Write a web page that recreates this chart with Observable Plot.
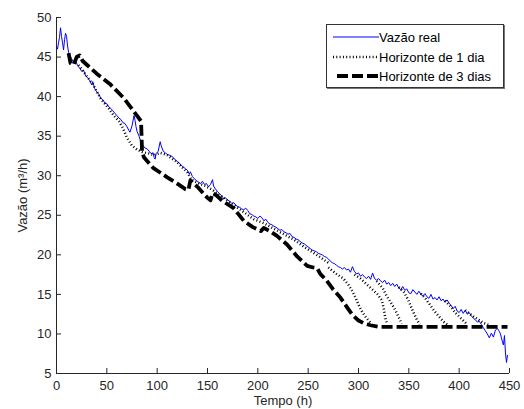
<!DOCTYPE html>
<html>
<head>
<meta charset="utf-8">
<script src="https://cdn.jsdelivr.net/npm/d3@7"></script>
<script src="https://cdn.jsdelivr.net/npm/@observablehq/plot@0.6"></script>
<style>
  html, body { margin: 0; padding: 0; background: #fff; }
  #wrap { position: relative; width: 524px; height: 409px; font-family: "Liberation Sans", Arial, Helvetica, sans-serif; }
  #legend { position: absolute; left: 326px; top: 24px; width: 176px; height: 62px; border: 1px solid #333; box-shadow: 1px 1px 0 #777; background: #fff; font-size: 13px; color: #000; }
  .row { position: absolute; left: 6px; height: 16px; display: flex; align-items: center; }
  .row svg { width: 46px; height: 10px; margin-right: 0px; }
</style>
</head>
<body>
<div id="wrap"></div>
<script>
// ---- data ----
const xTicks = [0, 50, 100, 150, 200, 250, 300, 350, 400, 450];
const yTicks = [5, 10, 15, 20, 25, 30, 35, 40, 45, 50];
const seriesNames = ["Vazão real", "Horizonte de 1 dia", "Horizonte de 3 dias"];

// Vazão real: [hour, m3/h]
const realFlow = [[0,46.3],[1,46.0],[2,46.8],[3,47.5],[4,48.7],[5,47.6],[6,46.8],[7,45.9],[8,47.2],[9,48.0],[10,47.6],[11,46.4],[12,45.6],[13,45.2],[15,44.8],[17,44.3],[19,44.5],[21,43.9],[23,43.6],[25,43.2],[27,43.3],[29,42.6],[31,42.4],[33,42.0],[35,41.5],[36,41.9],[38,41.0],[40,40.6],[42,40.3],[44,39.8],[46,39.6],[48,39.2],[50,39.1],[52,38.7],[54,38.5],[56,38.2],[58,37.9],[60,37.6],[62,37.3],[64,37.1],[66,36.7],[68,36.6],[70,36.2],[72,35.7],[73,35.5],[75,36.3],[77,37.6],[78,37.0],[79,36.2],[80,35.6],[82,35.0],[84,34.2],[86,33.8],[88,33.5],[90,33.4],[92,33.1],[94,32.8],[96,32.9],[97,32.3],[98,32.1],[99,32.8],[101,33.1],[103,34.3],[104,33.8],[106,33.1],[108,32.9],[110,32.7],[112,32.6],[114,32.5],[116,32.3],[118,32.0],[120,31.8],[122,31.6],[124,31.3],[126,31.1],[128,30.9],[130,30.7],[132,30.2],[133,30.5],[135,29.9],[137,29.6],[139,29.4],[141,29.2],[143,29.0],[145,29.3],[147,28.9],[149,29.0],[151,28.6],[153,28.9],[155,29.5],[156,28.7],[158,28.3],[160,28.0],[162,27.7],[164,27.5],[166,27.1],[168,27.2],[170,26.9],[172,26.8],[174,26.5],[176,26.6],[178,26.3],[180,26.1],[182,26.0],[184,25.8],[186,25.7],[188,25.9],[190,25.6],[192,25.2],[194,25.1],[196,24.9],[198,24.8],[200,24.6],[202,24.9],[204,24.7],[206,24.3],[208,24.5],[210,24.1],[212,23.9],[214,23.8],[216,23.6],[218,23.5],[220,23.3],[222,23.1],[224,23.2],[226,22.9],[228,22.8],[230,22.6],[232,22.7],[234,22.3],[236,22.2],[238,22.0],[240,21.9],[242,21.7],[244,21.5],[246,21.4],[248,21.2],[250,21.0],[252,20.8],[254,20.6],[256,20.5],[258,20.4],[260,20.2],[262,20.1],[264,20.0],[266,19.8],[268,19.7],[270,19.5],[272,19.2],[274,19.0],[276,18.9],[278,18.7],[280,18.5],[282,18.4],[284,18.2],[286,18.4],[288,18.1],[290,18.2],[292,17.8],[294,18.5],[296,17.9],[298,17.6],[300,17.7],[302,17.3],[304,17.5],[306,17.2],[308,17.0],[310,17.3],[312,16.9],[314,17.7],[316,17.0],[318,16.8],[320,17.0],[322,16.7],[324,16.5],[326,16.8],[328,16.3],[330,16.5],[332,16.1],[334,16.4],[336,16.0],[338,16.3],[340,15.8],[342,15.6],[344,16.0],[346,15.5],[348,15.7],[350,15.2],[352,15.1],[354,15.6],[356,15.3],[358,15.0],[360,15.4],[362,15.0],[364,14.8],[366,15.1],[368,14.7],[370,14.5],[372,15.0],[374,14.4],[376,14.6],[378,14.3],[380,14.7],[382,14.2],[384,14.4],[386,14.0],[388,14.3],[390,13.9],[392,13.6],[394,13.2],[396,13.5],[398,12.9],[400,12.7],[402,13.1],[404,12.6],[406,13.0],[408,12.5],[410,12.7],[412,12.3],[414,12.0],[416,11.8],[418,11.5],[420,11.6],[422,11.2],[424,10.8],[426,10.4],[428,10.0],[430,9.5],[432,10.1],[434,9.6],[436,10.5],[438,10.7],[440,10.3],[441,10.0],[442,9.5],[443,9.0],[444,8.6],[445,9.8],[446,7.6],[447,6.4],[448,7.3]];

// Horizonte de 1 dia: forecast segments, each a list of [hour, m3/h]
const horizon1Segments = [
  [[22,44.0],[30,42.6],[36,41.6],[44,39.7],[50,38.8],[57,37.6],[62,36.9],[66,36.0],[70,34.8],[75,33.8],[80,33.3],[85,33.0],[92,32.8],[97,32.6],[103,32.9],[110,32.6],[120,31.7],[130,30.4],[134,29.5],[140,29.1],[148,28.7],[155,28.2],[165,27.3],[176,26.3],[186,25.4],[196,24.5],[206,24.0],[216,23.3],[226,22.6],[236,21.9],[246,21.0],[256,20.2],[262,19.7],[270,19.0]],
  [[270,18.4],[278,17.6],[285,17.0],[290,16.2],[294,15.4],[297,14.6],[300,13.7],[304,12.7],[308,12.0],[312,11.4]],
  [[296,17.5],[302,17.0],[308,16.3],[314,15.6],[319,15.0],[323,14.3],[325,13.3],[326,12.5],[327,11.8],[329,11.2]],
  [[318,16.7],[324,15.8],[328,14.8],[333,13.8],[337,12.9],[340,12.1],[343,11.3]],
  [[340,15.9],[345,15.3],[349,14.4],[352,13.5],[355,12.6],[358,11.8],[361,11.2]],
  [[362,15.1],[367,14.4],[372,13.5],[376,12.8],[380,12.2],[384,11.6],[388,11.2]],
  [[386,14.2],[392,13.4],[396,12.7],[400,12.2],[404,11.7],[408,11.2]],
  [[406,13.0],[412,12.4],[418,11.9],[424,11.4],[430,11.1]]
];

// Horizonte de 3 dias: [hour, m3/h]
const horizon3 = [[12,45.5],[14,44.2],[17,44.0],[20,45.0],[23,45.2],[26,44.5],[40,42.9],[53,41.6],[67,39.8],[77,38.1],[84,36.9],[85,33.0],[87,32.3],[96,31.0],[110,29.8],[120,29.0],[128,28.3],[131,28.2],[133,29.4],[140,28.6],[150,27.2],[153,26.9],[155,27.8],[158,27.6],[165,26.8],[176,25.9],[186,24.3],[195,23.5],[203,23.0],[206,23.4],[212,23.0],[219,22.4],[229,21.3],[239,19.8],[249,18.6],[255,18.4],[259,18.3],[262,17.6],[268,16.8],[275,15.6],[282,14.6],[289,13.3],[294,12.4],[300,11.7],[306,11.3],[312,11.1],[320,10.9],[330,10.9],[350,10.9],[380,10.9],[410,10.9],[430,10.9],[448,10.9]];

// ---- styles ----
const blue = "#0000ff";
const dotStyle = {stroke: "#000", strokeWidth: 2.5, strokeDasharray: "1,2.3", strokeLinecap: "butt"};
const dashStyle = {stroke: "#000", strokeWidth: 3.8, strokeDasharray: "11,4", strokeLinecap: "butt"};

const h1 = horizon1Segments.flatMap((seg, i) => seg.map(([t, v]) => ({seg: i, t, v})));

const chart = Plot.plot({
  width: 524,
  height: 409,
  marginLeft: 56,
  marginRight: 15,
  marginTop: 17,
  marginBottom: 36,
  style: {fontFamily: '"Liberation Sans", Arial, Helvetica, sans-serif', fontSize: "13px", color: "#262626", background: "#fff"},
  x: {domain: [0, 450]},
  y: {domain: [5, 50]},
  marks: [
    Plot.line(realFlow, {x: d => d[0], y: d => d[1], stroke: blue, strokeWidth: 1}),
    Plot.line(h1, {x: "t", y: "v", z: "seg", ...dotStyle}),
    Plot.line(horizon3, {x: d => d[0], y: d => d[1], ...dashStyle}),
    Plot.ruleX([0], {stroke: "#262626"}),
    Plot.ruleY([5], {stroke: "#262626"}),
    Plot.axisX({ticks: xTicks, tickSize: -5, tickPadding: 12, tickFormat: d => String(d), label: "Tempo (h)", labelAnchor: "center", labelArrow: "none", labelOffset: 31, stroke: "#262626"}),
    Plot.axisY({ticks: yTicks, tickSize: -5, tickPadding: 10, tickFormat: d => String(d), label: "Vazão (m³/h)", labelAnchor: "center", labelArrow: "none", labelOffset: 39, stroke: "#262626"})
  ]
});

const wrap = document.getElementById("wrap");
wrap.appendChild(chart);

// legend
const legend = document.createElement("div");
legend.id = "legend";
const samples = [
  `<line x1="0" y1="5" x2="46" y2="5" stroke="${blue}" stroke-width="1"/>`,
  `<line x1="0" y1="5" x2="46" y2="5" stroke="#000" stroke-width="${dotStyle.strokeWidth}" stroke-dasharray="${dotStyle.strokeDasharray}"/>`,
  `<line x1="4" y1="5" x2="46" y2="5" stroke="#000" stroke-width="${dashStyle.strokeWidth}" stroke-dasharray="${dashStyle.strokeDasharray}"/>`
];
const rowTops = [4, 24, 43];
seriesNames.forEach((name, i) => {
  const row = document.createElement("div");
  row.className = "row";
  row.style.top = rowTops[i] + "px";
  row.innerHTML = `<svg viewBox="0 0 46 10">${samples[i]}</svg><span>${name}</span>`;
  legend.appendChild(row);
});
wrap.appendChild(legend);
</script>
</body>
</html>
